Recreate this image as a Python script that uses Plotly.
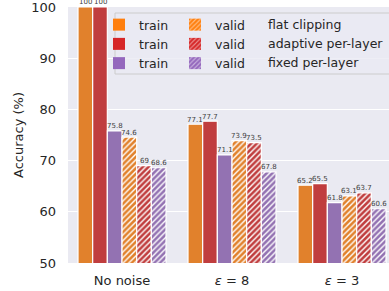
import plotly.graph_objects as go

categories = ["No noise", "<i>ε</i> = 8", "<i>ε</i> = 3"]
train_flat = [100, 77.1, 65.2]
train_adaptive = [100, 77.7, 65.5]
train_fixed = [75.8, 71.1, 61.8]
valid_flat = [74.6, 73.9, 63.1]
valid_adaptive = [69, 73.5, 63.7]
valid_fixed = [68.6, 67.8, 60.6]
method_names = ["flat clipping", "adaptive per-layer", "fixed per-layer"]
y_ticks = [50, 60, 70, 80, 90, 100]

bar_colors = ["#E1812C", "#C03D3E", "#9372B2"]
legend_colors = ["#FF7F0E", "#D62728", "#9467BD"]
TXT = "#262626"
FONT = "DejaVu Sans"

W, H = 389, 291
ML, MR, MT, MB = 68, 0, 7, 28
PW, PH = W - ML - MR, H - MT - MB
BARGAP = 0.2


def px(x):
    return (x - ML) / PW


def py(y):
    return 1 - (y - MT) / PH


fig = go.Figure()

series = [
    (train_flat, 0, False), (train_adaptive, 1, False), (train_fixed, 2, False),
    (valid_flat, 0, True), (valid_adaptive, 1, True), (valid_fixed, 2, True),
]
n_series = len(series)
bw = (1 - BARGAP) / n_series
for si, (vals, ci, hatched) in enumerate(series):
    marker = dict(color=bar_colors[ci], line=dict(color="white", width=1.2))
    if hatched:
        marker["pattern"] = dict(shape="/", fgcolor="white", bgcolor=bar_colors[ci],
                                 size=4, solidity=0.35, fillmode="replace")
    fig.add_trace(go.Bar(x=categories, y=vals, marker=marker, showlegend=False))
    # value labels above each bar
    for k, v in enumerate(vals):
        fig.add_annotation(x=k + (si - (n_series - 1) / 2) * bw, y=v, xref="x", yref="y",
                           text=f"{v:g}", showarrow=False, yanchor="bottom",
                           xanchor="center", yshift=-1.5,
                           font=dict(size=7, color="#404040", family=FONT))

# legend entries (empty traces on a hidden overlay axis)
for ci in range(3):
    fig.add_trace(go.Bar(x=[None], y=[None], name="train", legend="legend",
                         xaxis="x2", yaxis="y2",
                         marker=dict(color=legend_colors[ci], line=dict(width=0))))
for ci in range(3):
    fig.add_trace(go.Bar(x=[None], y=[None], name="valid", legend="legend2",
                         xaxis="x2", yaxis="y2",
                         marker=dict(color=legend_colors[ci], line=dict(width=0),
                                     pattern=dict(shape="/", fgcolor="white",
                                                  bgcolor=legend_colors[ci],
                                                  size=4, solidity=0.35))))

legend_common = dict(bgcolor="rgba(0,0,0,0)", borderwidth=0,
                     font=dict(size=12.5, color=TXT, family=FONT),
                     xanchor="left", yanchor="top", traceorder="normal",
                     itemwidth=30, tracegroupgap=0)

# legend frame
fig.add_shape(type="rect", xref="paper", yref="paper",
              x0=px(115), x1=px(395), y0=py(74), y1=py(13),
              fillcolor="rgba(234,234,242,0.8)", line=dict(color="#CCCCCC", width=1),
              layer="above")

row_y = [24, 43, 62]
for name, ry in zip(method_names, row_y):
    fig.add_annotation(text=name, xref="paper", yref="paper", x=px(266), y=py(ry),
                       xanchor="left", yanchor="middle", showarrow=False,
                       font=dict(size=12.5, color=TXT, family=FONT))

fig.update_layout(
    width=W, height=H,
    margin=dict(l=ML, r=MR, t=MT, b=MB, autoexpand=False),
    paper_bgcolor="white", plot_bgcolor="#EAEAF2",
    barmode="group", bargap=BARGAP, bargroupgap=0,
    font=dict(family=FONT, color=TXT),
    legend=dict(x=px(99), y=py(10), **legend_common),
    legend2=dict(x=px(175), y=py(10), **legend_common),
    xaxis=dict(range=[-0.491, -0.491 + PW / 110], showgrid=False, zeroline=False,
               tickfont=dict(size=13, color=TXT, family=FONT), ticks="",
               ticklabelstandoff=8, automargin=False),
    yaxis=dict(range=[50, 100], tickvals=y_ticks,
               showgrid=True, gridcolor="white", gridwidth=1.3, zeroline=False,
               tickfont=dict(size=13, color=TXT, family=FONT), ticks="",
               ticklabelstandoff=11, automargin=False, ticklabeloverflow="allow",
               title=dict(text="Accuracy (%)", font=dict(size=13, color=TXT, family=FONT),
                          standoff=4)),
    xaxis2=dict(overlaying="x", visible=False, range=[0, 1]),
    yaxis2=dict(overlaying="y", visible=False, range=[0, 1]),
)

fig.write_html("out.html", config={"displayModeBar": False},
               post_script="document.body.style.margin='0';document.body.style.overflow='hidden';")
